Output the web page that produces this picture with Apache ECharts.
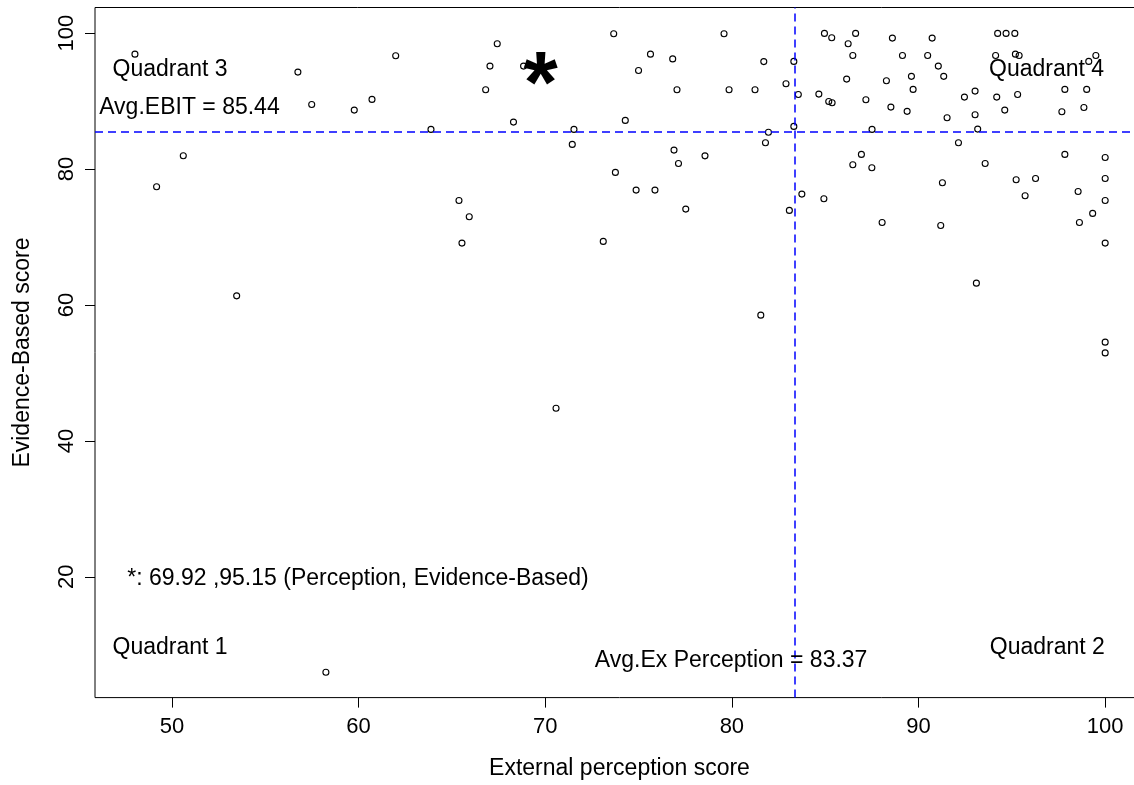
<!DOCTYPE html>
<html>
<head>
<meta charset="utf-8">
<script src="https://cdn.jsdelivr.net/npm/echarts@6/dist/echarts.min.js"></script>
<style>
html,body{margin:0;padding:0;overflow:hidden;background:#fff;}
#chart{width:1150px;height:785px;}
</style>
</head>
<body>
<div id="chart"></div>
<script>
// External perception score (x) and Evidence-Based score (y) of each company
const perceptionScores = [
  48.02, 56.75, 61.99, 57.49, 59.77, 60.72, 63.88, 50.61, 49.18, 53.47,
  67.43, 67.04, 68.84, 66.81, 68.30, 71.54, 71.45, 65.38, 65.93, 65.54,
  73.67, 75.64, 76.83, 75.00, 77.06, 79.58, 79.85, 81.24, 81.71, 74.29,
  81.96, 81.80, 76.90, 77.14, 78.56, 73.76, 74.87, 75.88, 77.53, 73.11,
  81.55, 83.32, 82.90, 83.56, 83.32, 84.96, 85.35, 86.63, 86.23, 86.48,
  88.60, 90.73, 89.14, 90.49, 91.06, 91.35, 89.62, 89.71, 88.28, 86.15,
  84.66, 85.19, 85.37, 87.18, 88.52, 89.39, 91.53, 92.46, 93.03, 93.03,
  93.17, 87.51, 94.19, 94.62, 95.31, 94.13, 94.24, 94.69, 95.16, 95.19,
  95.39, 99.50, 99.12, 97.84, 99.01, 97.68, 98.86, 92.14, 86.94, 86.48,
  87.50, 93.57, 97.84, 100.00, 100.00, 100.00, 100.00, 91.28, 95.23, 96.27,
  95.71, 98.55, 99.33, 98.62, 83.75, 84.93, 83.08, 88.05, 91.19, 93.10,
  100.00, 100.00, 70.58, 58.25
];
const evidenceScores = [
  96.90, 94.26, 96.66, 89.50, 88.67, 90.24, 85.83, 81.95, 77.38, 61.34,
  98.43, 95.14, 95.14, 91.66, 86.90, 85.83, 83.62, 75.37, 72.97, 69.10,
  99.90, 96.90, 96.20, 94.50, 91.66, 99.90, 91.66, 91.66, 95.80, 87.15,
  85.40, 83.86, 82.78, 80.82, 81.94, 79.50, 76.90, 76.90, 74.10, 69.35,
  58.50, 95.83, 92.54, 90.97, 86.27, 99.95, 99.30, 99.95, 98.43, 96.70,
  99.26, 99.26, 96.70, 96.70, 95.14, 93.63, 93.63, 91.71, 92.98, 93.23,
  91.02, 89.94, 89.74, 90.19, 89.11, 88.48, 87.54, 90.58, 91.46, 87.98,
  85.87, 85.83, 90.58, 88.67, 90.97, 96.70, 99.95, 99.95, 99.95, 96.90,
  96.70, 96.70, 95.83, 91.71, 91.71, 88.42, 89.06, 83.86, 82.15, 80.62,
  80.18, 80.82, 82.15, 81.70, 78.60, 75.37, 69.10, 77.97, 78.41, 78.60,
  76.06, 76.70, 73.47, 72.14, 76.31, 75.62, 73.91, 72.14, 71.70, 63.21,
  54.53, 52.95, 44.81, 5.96
];
// Highlighted company (*) and averages
const starPoint = [69.92, 95.15];
const avgExPerception = 83.37;
const avgEBIT = 85.44;
// Tick labels
const xTicks = [50, 60, 70, 80, 90, 100];
const yTicks = [20, 40, 60, 80, 100];

const FONT = '"Liberation Sans", Arial, sans-serif';
const points = perceptionScores.map((x, i) => [x, evidenceScores[i]]);

function textItem(x, y, text) {
  return {
    value: [x, y],
    label: { show: true, position: 'inside', formatter: text, align: 'center',
             verticalAlign: 'middle', fontSize: 23, color: '#000', fontFamily: FONT,
             textBorderWidth: 0, opacity: 1 }
  };
}

const chart = echarts.init(document.getElementById('chart'), null, { renderer: 'canvas' });
chart.setOption({
  animation: false,
  backgroundColor: '#fff',
  grid: {
    left: 95, right: 6, top: 7.5, bottom: 87.4,
    outerBoundsMode: 'none', containLabel: false,
    show: true, borderColor: '#000', borderWidth: 1, backgroundColor: 'transparent'
  },
  xAxis: {
    type: 'value', min: 45.88, max: 102.08,
    name: 'External perception score', nameLocation: 'middle', nameGap: 60,
    nameTextStyle: { fontSize: 23, color: '#000', fontFamily: FONT },
    axisLine: { show: false },
    axisTick: { show: true, length: 10, customValues: xTicks, lineStyle: { color: '#000' } },
    axisLabel: { customValues: xTicks, fontSize: 22, color: '#000', fontFamily: FONT, margin: 18 },
    splitLine: { show: false }
  },
  yAxis: {
    type: 'value', min: 2.24, max: 103.76,
    name: 'Evidence-Based score', nameLocation: 'middle', nameGap: 61,
    nameTextStyle: { fontSize: 23, color: '#000', fontFamily: FONT },
    axisLine: { show: false },
    axisTick: { show: true, length: 10, customValues: yTicks, lineStyle: { color: '#000' } },
    axisLabel: { customValues: yTicks, fontSize: 22, color: '#000', fontFamily: FONT, margin: 17, rotate: 90 },
    splitLine: { show: false }
  },
  series: [
    {
      type: 'scatter',
      data: points,
      symbol: 'circle',
      symbolSize: 6,
      itemStyle: { color: 'rgba(0,0,0,0)', borderColor: '#000', borderWidth: 1.1, opacity: 1 },
      markLine: {
        silent: true,
        symbol: ['none', 'none'],
        label: { show: false },
        lineStyle: { color: '#0000ff', type: [8, 5], width: 1.5, opacity: 1 },
        data: [{ xAxis: avgExPerception }, { yAxis: avgEBIT }]
      },
      z: 3
    },
    {
      type: 'scatter',
      data: [starPoint],
      symbolSize: 0,
      itemStyle: { opacity: 1, color: '#000' },
      label: { show: true, position: 'inside', formatter: '*', fontSize: 88, fontWeight: 'bold',
               color: '#000', fontFamily: FONT, offset: [-3, 22], textBorderWidth: 0, opacity: 1 },
      z: 4
    },
    {
      type: 'scatter',
      symbolSize: 0,
      silent: true,
      itemStyle: { opacity: 1, color: '#000' },
      data: [
        textItem(49.9, 94.6, 'Quadrant 3'),
        textItem(96.86, 94.6, 'Quadrant 4'),
        textItem(49.9, 9.64, 'Quadrant 1'),
        textItem(96.9, 9.64, 'Quadrant 2'),
        textItem(50.94, 88.96, 'Avg.EBIT = 85.44'),
        textItem(79.96, 7.73, 'Avg.Ex Perception = 83.37'),
        textItem(59.97, 19.8, '*: 69.92 ,95.15 (Perception, Evidence-Based)')
      ],
      z: 5
    }
  ]
});
</script>
</body>
</html>
